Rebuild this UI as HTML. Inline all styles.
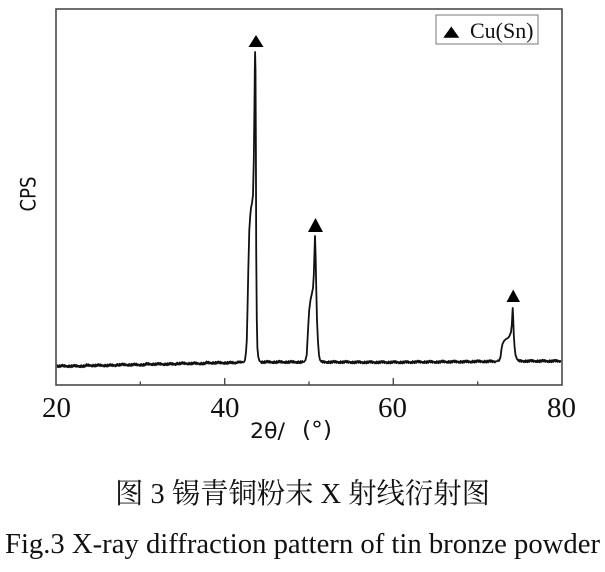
<!DOCTYPE html>
<html>
<head>
<meta charset="utf-8">
<style>
  html, body { margin: 0; padding: 0; background: #fff; }
  svg { display: block; }
</style>
</head>
<body>
<svg width="605" height="572" viewBox="0 0 605 572" xmlns="http://www.w3.org/2000/svg">
  <rect x="0" y="0" width="605" height="572" fill="#fff"/>
  <defs>
    <clipPath id="plotclip"><rect x="56.8" y="9" width="504.4" height="375"/></clipPath>
  </defs>

  <!-- data line (static, noisy baseline) -->
  <path clip-path="url(#plotclip)" fill="none" stroke="#111" stroke-width="1.8" stroke-linejoin="round"
    d="M56,366
    l0.6,1.2 l0.6,-2 l0.6,1.6 l0.6,-0.9 l0.6,1.4 l0.6,-2.2 l0.6,1.5 l0.6,0.3 l0.6,-1.8 l0.6,0.9
    l0.5,-1.3 l0.7,1.9 l0.6,-0.6 l0.5,-1.1 l0.7,2 l0.6,-1.4 l0.5,0.8 l0.7,-0.4 l0.5,1.2 l0.7,-1.1
    l0.6,1.2 l0.6,-2 l0.6,1.6 l0.6,-0.9 l0.6,1.4 l0.6,-2.2 l0.6,1.5 l0.6,0.3 l0.6,-1.8 l0.6,0.9
    l0.5,-1.3 l0.7,1.9 l0.6,-0.6 l0.5,-1.1 l0.7,2 l0.6,-1.4 l0.5,0.8 l0.7,-0.4 l0.5,1.2 l0.7,-1.1
    l0.6,1.2 l0.6,-2 l0.6,1.6 l0.6,-0.9 l0.6,1.4 l0.6,-2.2 l0.6,1.5 l0.6,0.3 l0.6,-1.8 l0.6,0.9
    L86,365.35
    l0.5,-1.3 l0.7,1.9 l0.6,-0.6 l0.5,-1.1 l0.7,2 l0.6,-1.4 l0.5,0.8 l0.7,-0.4 l0.5,1.2 l0.7,-1.1
    l0.6,1.2 l0.6,-2 l0.6,1.6 l0.6,-0.9 l0.6,1.4 l0.6,-2.2 l0.6,1.5 l0.6,0.3 l0.6,-1.8 l0.6,0.9
    l0.5,-1.3 l0.7,1.9 l0.6,-0.6 l0.5,-1.1 l0.7,2 l0.6,-1.4 l0.5,0.8 l0.7,-0.4 l0.5,1.2 l0.7,-1.1
    l0.6,1.2 l0.6,-2 l0.6,1.6 l0.6,-0.9 l0.6,1.4 l0.6,-2.2 l0.6,1.5 l0.6,0.3 l0.6,-1.8 l0.6,0.9
    l0.5,-1.3 l0.7,1.9 l0.6,-0.6 l0.5,-1.1 l0.7,2 l0.6,-1.4 l0.5,0.8 l0.7,-0.4 l0.5,1.2 l0.7,-1.1
    L116,364.7
    l0.6,1.2 l0.6,-2 l0.6,1.6 l0.6,-0.9 l0.6,1.4 l0.6,-2.2 l0.6,1.5 l0.6,0.3 l0.6,-1.8 l0.6,0.9
    l0.5,-1.3 l0.7,1.9 l0.6,-0.6 l0.5,-1.1 l0.7,2 l0.6,-1.4 l0.5,0.8 l0.7,-0.4 l0.5,1.2 l0.7,-1.1
    l0.6,1.2 l0.6,-2 l0.6,1.6 l0.6,-0.9 l0.6,1.4 l0.6,-2.2 l0.6,1.5 l0.6,0.3 l0.6,-1.8 l0.6,0.9
    l0.5,-1.3 l0.7,1.9 l0.6,-0.6 l0.5,-1.1 l0.7,2 l0.6,-1.4 l0.5,0.8 l0.7,-0.4 l0.5,1.2 l0.7,-1.1
    l0.6,1.2 l0.6,-2 l0.6,1.6 l0.6,-0.9 l0.6,1.4 l0.6,-2.2 l0.6,1.5 l0.6,0.3 l0.6,-1.8 l0.6,0.9
    L146,364.05
    l0.5,-1.3 l0.7,1.9 l0.6,-0.6 l0.5,-1.1 l0.7,2 l0.6,-1.4 l0.5,0.8 l0.7,-0.4 l0.5,1.2 l0.7,-1.1
    l0.6,1.2 l0.6,-2 l0.6,1.6 l0.6,-0.9 l0.6,1.4 l0.6,-2.2 l0.6,1.5 l0.6,0.3 l0.6,-1.8 l0.6,0.9
    l0.5,-1.3 l0.7,1.9 l0.6,-0.6 l0.5,-1.1 l0.7,2 l0.6,-1.4 l0.5,0.8 l0.7,-0.4 l0.5,1.2 l0.7,-1.1
    l0.6,1.2 l0.6,-2 l0.6,1.6 l0.6,-0.9 l0.6,1.4 l0.6,-2.2 l0.6,1.5 l0.6,0.3 l0.6,-1.8 l0.6,0.9
    l0.5,-1.3 l0.7,1.9 l0.6,-0.6 l0.5,-1.1 l0.7,2 l0.6,-1.4 l0.5,0.8 l0.7,-0.4 l0.5,1.2 l0.7,-1.1
    L176,363.4
    l0.6,1.2 l0.6,-2 l0.6,1.6 l0.6,-0.9 l0.6,1.4 l0.6,-2.2 l0.6,1.5 l0.6,0.3 l0.6,-1.8 l0.6,0.9
    l0.5,-1.3 l0.7,1.9 l0.6,-0.6 l0.5,-1.1 l0.7,2 l0.6,-1.4 l0.5,0.8 l0.7,-0.4 l0.5,1.2 l0.7,-1.1
    l0.6,1.2 l0.6,-2 l0.6,1.6 l0.6,-0.9 l0.6,1.4 l0.6,-2.2 l0.6,1.5 l0.6,0.3 l0.6,-1.8 l0.6,0.9
    l0.5,-1.3 l0.7,1.9 l0.6,-0.6 l0.5,-1.1 l0.7,2 l0.6,-1.4 l0.5,0.8 l0.7,-0.4 l0.5,1.2 l0.7,-1.1
    l0.6,1.2 l0.6,-2 l0.6,1.6 l0.6,-0.9 l0.6,1.4 l0.6,-2.2 l0.6,1.5 l0.6,0.3 l0.6,-1.8 l0.6,0.9
    L206,362.75
    l0.5,-1.3 l0.7,1.9 l0.6,-0.6 l0.5,-1.1 l0.7,2 l0.6,-1.4 l0.5,0.8 l0.7,-0.4 l0.5,1.2 l0.7,-1.1
    l0.6,1.2 l0.6,-2 l0.6,1.6 l0.6,-0.9 l0.6,1.4 l0.6,-2.2 l0.6,1.5 l0.6,0.3 l0.6,-1.8 l0.6,0.9
    l0.5,-1.3 l0.7,1.9 l0.6,-0.6 l0.5,-1.1 l0.7,2 l0.6,-1.4 l0.5,0.8 l0.7,-0.4 l0.5,1.2 l0.7,-1.1
    l0.6,1.2 l0.6,-2 l0.6,1.6 l0.6,-0.9 l0.6,1.4 l0.6,-2.2 l0.6,1.5 l0.6,0.3 l0.6,-1.8 l0.6,0.9
    l0.5,-1.3 l0.7,1.9 l0.6,-0.6 l0.5,-1.1 l0.7,2 l0.6,-1.4 l0.5,0.8 l0.7,-0.4 l0.5,1.2 l0.7,-1.1
    L236,362.1 L237,363.2 L238,361.3 L239,362.8 L240,361.2 L241,362.9 L242,361.6 L243,362.5 L244,362
    L245,360 L246,352 L246.8,340 L247.5,310 L248.3,270 L249.3,230 L250.3,215 L251,208 L252,203 L253,195 L253.8,160 L254.4,110 L254.8,70 L255.1,52 L255.5,70 L255.9,150 L256.2,250 L256.8,320 L257.4,348 L258.3,357 L259.5,361
    L261,362
    l0.6,1.2 l0.6,-2 l0.6,1.6 l0.6,-0.9 l0.6,1.4 l0.6,-2.2 l0.6,1.5 l0.6,0.3 l0.6,-1.8 l0.6,0.9
    l0.5,-1.3 l0.7,1.9 l0.6,-0.6 l0.5,-1.1 l0.7,2 l0.6,-1.4 l0.5,0.8 l0.7,-0.4 l0.5,1.2 l0.7,-1.1
    l0.6,1.2 l0.6,-2 l0.6,1.6 l0.6,-0.9 l0.6,1.4 l0.6,-2.2 l0.6,1.5 l0.6,0.3 l0.6,-1.8 l0.6,0.9
    l0.5,-1.3 l0.7,1.9 l0.6,-0.6 l0.5,-1.1 l0.7,2 l0.6,-1.4 l0.5,0.8 l0.7,-0.4 l0.5,1.2 l0.7,-1.1
    l0.6,1.2 l0.6,-2 l0.6,1.6 l0.6,-0.9 l0.6,1.4 l0.6,-2.2 l0.6,1.5 l0.6,0.3 l0.6,-1.8 l0.6,0.9
    L291,362
    l0.5,-1.3 l0.7,1.9 l0.6,-0.6 l0.5,-1.1 l0.7,2 l0.6,-1.4 l0.5,0.8 l0.7,-0.4 l0.5,1.2 l0.7,-1.1
    l0.6,1.2 l0.6,-2 l0.6,1.6 l0.6,-0.9 l0.6,1.4 l0.6,-2.2 l0.6,1.5 l0.6,0.3 l0.6,-1.8 l0.6,0.9
    L304,362
    L305.5,360 L306.7,355 L307.5,340 L308.3,325 L309.2,310 L310.5,300 L312,293 L313,288 L313.8,275 L314.4,255 L315,236 L315.6,255 L316.3,290 L317,320 L318,342 L319,355 L320,360
    L321.5,362
    l0.5,-1.3 l0.7,1.9 l0.6,-0.6 l0.5,-1.1 l0.7,2 l0.6,-1.4 l0.5,0.8 l0.7,-0.4 l0.5,1.2 l0.7,-1.1
    l0.6,1.2 l0.6,-2 l0.6,1.6 l0.6,-0.9 l0.6,1.4 l0.6,-2.2 l0.6,1.5 l0.6,0.3 l0.6,-1.8 l0.6,0.9
    l0.5,-1.3 l0.7,1.9 l0.6,-0.6 l0.5,-1.1 l0.7,2 l0.6,-1.4 l0.5,0.8 l0.7,-0.4 l0.5,1.2 l0.7,-1.1
    l0.6,1.2 l0.6,-2 l0.6,1.6 l0.6,-0.9 l0.6,1.4 l0.6,-2.2 l0.6,1.5 l0.6,0.3 l0.6,-1.8 l0.6,0.9
    l0.5,-1.3 l0.7,1.9 l0.6,-0.6 l0.5,-1.1 l0.7,2 l0.6,-1.4 l0.5,0.8 l0.7,-0.4 l0.5,1.2 l0.7,-1.1
    L351.5,362.2
    l0.6,1.2 l0.6,-2 l0.6,1.6 l0.6,-0.9 l0.6,1.4 l0.6,-2.2 l0.6,1.5 l0.6,0.3 l0.6,-1.8 l0.6,0.9
    l0.5,-1.3 l0.7,1.9 l0.6,-0.6 l0.5,-1.1 l0.7,2 l0.6,-1.4 l0.5,0.8 l0.7,-0.4 l0.5,1.2 l0.7,-1.1
    l0.6,1.2 l0.6,-2 l0.6,1.6 l0.6,-0.9 l0.6,1.4 l0.6,-2.2 l0.6,1.5 l0.6,0.3 l0.6,-1.8 l0.6,0.9
    l0.5,-1.3 l0.7,1.9 l0.6,-0.6 l0.5,-1.1 l0.7,2 l0.6,-1.4 l0.5,0.8 l0.7,-0.4 l0.5,1.2 l0.7,-1.1
    l0.6,1.2 l0.6,-2 l0.6,1.6 l0.6,-0.9 l0.6,1.4 l0.6,-2.2 l0.6,1.5 l0.6,0.3 l0.6,-1.8 l0.6,0.9
    L381.5,362.2
    l0.5,-1.3 l0.7,1.9 l0.6,-0.6 l0.5,-1.1 l0.7,2 l0.6,-1.4 l0.5,0.8 l0.7,-0.4 l0.5,1.2 l0.7,-1.1
    l0.6,1.2 l0.6,-2 l0.6,1.6 l0.6,-0.9 l0.6,1.4 l0.6,-2.2 l0.6,1.5 l0.6,0.3 l0.6,-1.8 l0.6,0.9
    l0.5,-1.3 l0.7,1.9 l0.6,-0.6 l0.5,-1.1 l0.7,2 l0.6,-1.4 l0.5,0.8 l0.7,-0.4 l0.5,1.2 l0.7,-1.1
    l0.6,1.2 l0.6,-2 l0.6,1.6 l0.6,-0.9 l0.6,1.4 l0.6,-2.2 l0.6,1.5 l0.6,0.3 l0.6,-1.8 l0.6,0.9
    l0.5,-1.3 l0.7,1.9 l0.6,-0.6 l0.5,-1.1 l0.7,2 l0.6,-1.4 l0.5,0.8 l0.7,-0.4 l0.5,1.2 l0.7,-1.1
    L411.5,361.9
    l0.6,1.2 l0.6,-2 l0.6,1.6 l0.6,-0.9 l0.6,1.4 l0.6,-2.2 l0.6,1.5 l0.6,0.3 l0.6,-1.8 l0.6,0.9
    l0.5,-1.3 l0.7,1.9 l0.6,-0.6 l0.5,-1.1 l0.7,2 l0.6,-1.4 l0.5,0.8 l0.7,-0.4 l0.5,1.2 l0.7,-1.1
    l0.6,1.2 l0.6,-2 l0.6,1.6 l0.6,-0.9 l0.6,1.4 l0.6,-2.2 l0.6,1.5 l0.6,0.3 l0.6,-1.8 l0.6,0.9
    l0.5,-1.3 l0.7,1.9 l0.6,-0.6 l0.5,-1.1 l0.7,2 l0.6,-1.4 l0.5,0.8 l0.7,-0.4 l0.5,1.2 l0.7,-1.1
    l0.6,1.2 l0.6,-2 l0.6,1.6 l0.6,-0.9 l0.6,1.4 l0.6,-2.2 l0.6,1.5 l0.6,0.3 l0.6,-1.8 l0.6,0.9
    L441.5,361.7
    l0.5,-1.3 l0.7,1.9 l0.6,-0.6 l0.5,-1.1 l0.7,2 l0.6,-1.4 l0.5,0.8 l0.7,-0.4 l0.5,1.2 l0.7,-1.1
    l0.6,1.2 l0.6,-2 l0.6,1.6 l0.6,-0.9 l0.6,1.4 l0.6,-2.2 l0.6,1.5 l0.6,0.3 l0.6,-1.8 l0.6,0.9
    l0.5,-1.3 l0.7,1.9 l0.6,-0.6 l0.5,-1.1 l0.7,2 l0.6,-1.4 l0.5,0.8 l0.7,-0.4 l0.5,1.2 l0.7,-1.1
    l0.6,1.2 l0.6,-2 l0.6,1.6 l0.6,-0.9 l0.6,1.4 l0.6,-2.2 l0.6,1.5 l0.6,0.3 l0.6,-1.8 l0.6,0.9
    l0.5,-1.3 l0.7,1.9 l0.6,-0.6 l0.5,-1.1 l0.7,2 l0.6,-1.4 l0.5,0.8 l0.7,-0.4 l0.5,1.2 l0.7,-1.1
    L471.5,361.4
    l0.6,1.2 l0.6,-2 l0.6,1.6 l0.6,-0.9 l0.6,1.4 l0.6,-2.2 l0.6,1.5 l0.6,0.3 l0.6,-1.8 l0.6,0.9
    l0.5,-1.3 l0.7,1.9 l0.6,-0.6 l0.5,-1.1 l0.7,2 l0.6,-1.4 l0.5,0.8 l0.7,-0.4 l0.5,1.2 l0.7,-1.1
    l0.6,1.2 l0.6,-2 l0.6,1.6 l0.6,-0.9 l0.6,1.4 l0.6,-2.2 l0.6,1.5 l0.6,0.3 l0.6,-1.8 l0.6,0.9
    l0.5,-1.3 l0.7,1.9 l0.6,-0.6 l0.5,-1.1 l0.7,2 l0.6,-1.4 l0.5,0.8 l0.7,-0.4 l0.5,1.2 l0.7,-1.1
    L497,361.3 L498,360.2 L499,361
    L500.5,357 L501.5,349 L502.5,344 L504,341 L506,339 L508,338 L509.5,336 L511,332 L511.8,325 L512.3,315 L512.7,308 L513.2,318 L513.8,335 L514.6,347 L515.5,355 L517,359
    L518.5,361
    l0.5,-1.3 l0.7,1.9 l0.6,-0.6 l0.5,-1.1 l0.7,2 l0.6,-1.4 l0.5,0.8 l0.7,-0.4 l0.5,1.2 l0.7,-1.1
    l0.6,1.2 l0.6,-2 l0.6,1.6 l0.6,-0.9 l0.6,1.4 l0.6,-2.2 l0.6,1.5 l0.6,0.3 l0.6,-1.8 l0.6,0.9
    l0.5,-1.3 l0.7,1.9 l0.6,-0.6 l0.5,-1.1 l0.7,2 l0.6,-1.4 l0.5,0.8 l0.7,-0.4 l0.5,1.2 l0.7,-1.1
    l0.6,1.2 l0.6,-2 l0.6,1.6 l0.6,-0.9 l0.6,1.4 l0.6,-2.2 l0.6,1.5 l0.6,0.3 l0.6,-1.8 l0.6,0.9
    l0.5,-1.3 l0.7,1.9 l0.6,-0.6 l0.5,-1.1 l0.7,2 l0.6,-1.4 l0.5,0.8 l0.7,-0.4 l0.5,1.2 l0.7,-1.1
    L548.5,361
    l0.6,1.2 l0.6,-2 l0.6,1.6 l0.6,-0.9 l0.6,1.4 l0.6,-2.2 l0.6,1.5 l0.6,0.3 l0.6,-1.8 l0.6,0.9
    l0.5,-1.3 l0.7,1.9 l0.6,-0.6 l0.5,-1.1 l0.7,2 l0.6,-1.4 l0.5,0.8 l0.7,-0.4 l0.5,1.2 l0.7,-1.1
    L562,361"/>

  <!-- frame -->
  <rect x="56" y="9" width="506" height="376" fill="none" stroke="#4a4a4a" stroke-width="1.6"/>

  <!-- ticks -->
  <g stroke="#4a4a4a" stroke-width="1.4">
    <line x1="224.7" y1="385" x2="224.7" y2="378"/>
    <line x1="393.3" y1="385" x2="393.3" y2="378"/>
    <line x1="140.3" y1="385" x2="140.3" y2="381.5"/>
    <line x1="309" y1="385" x2="309" y2="381.5"/>
    <line x1="477.7" y1="385" x2="477.7" y2="381.5"/>
  </g>

  <!-- tick labels -->
  <g font-family="'Liberation Serif', serif" font-size="29" fill="#111" text-anchor="middle">
    <text x="56.5" y="417">20</text>
    <text x="225" y="417">40</text>
    <text x="392.5" y="417">60</text>
    <text x="561.5" y="417">80</text>
  </g>

  <!-- axis labels -->
  <text x="250" y="438" font-family="'DejaVu Sans', 'Liberation Sans', sans-serif" font-size="21" fill="#111" textLength="35" lengthAdjust="spacingAndGlyphs">2θ/</text>
  <text x="302" y="437" font-family="'DejaVu Sans', 'Liberation Sans', sans-serif" font-size="22" fill="#111" textLength="30" lengthAdjust="spacingAndGlyphs">(°)</text>
  <text transform="translate(35.5,194) rotate(-90)" x="0" y="0" text-anchor="middle" font-family="'DejaVu Sans', 'Liberation Sans', sans-serif" font-size="21" fill="#111" textLength="35" lengthAdjust="spacingAndGlyphs">CPS</text>

  <!-- peak markers -->
  <g fill="#000">
    <polygon points="248.5,47 263.5,47 256,35"/>
    <polygon points="308,232 323,232 315.5,218"/>
    <polygon points="506.5,302 520,302 513.2,289.5"/>
  </g>

  <!-- legend -->
  <rect x="436" y="15" width="102" height="29" fill="#fff" stroke="#777" stroke-width="1"/>
  <polygon points="443.3,37.7 459.3,37.7 451.3,26.5" fill="#000"/>
  <text x="470" y="38" font-family="'Liberation Serif', serif" font-size="22" fill="#111" textLength="63.5" lengthAdjust="spacingAndGlyphs">Cu(Sn)</text>

  <!-- captions -->
  <text x="115" y="503" font-family="'Liberation Serif', 'Noto Serif CJK SC', 'Noto Sans CJK SC', serif" font-size="28.4" fill="#111" textLength="375" lengthAdjust="spacingAndGlyphs">图 3 锡青铜粉末 X 射线衍射图</text>
  <text x="5" y="553" font-family="'Liberation Serif', serif" font-size="28.7" fill="#111" textLength="595" lengthAdjust="spacingAndGlyphs">Fig.3 X-ray diffraction pattern of tin bronze powder</text>
</svg>
</body>
</html>
